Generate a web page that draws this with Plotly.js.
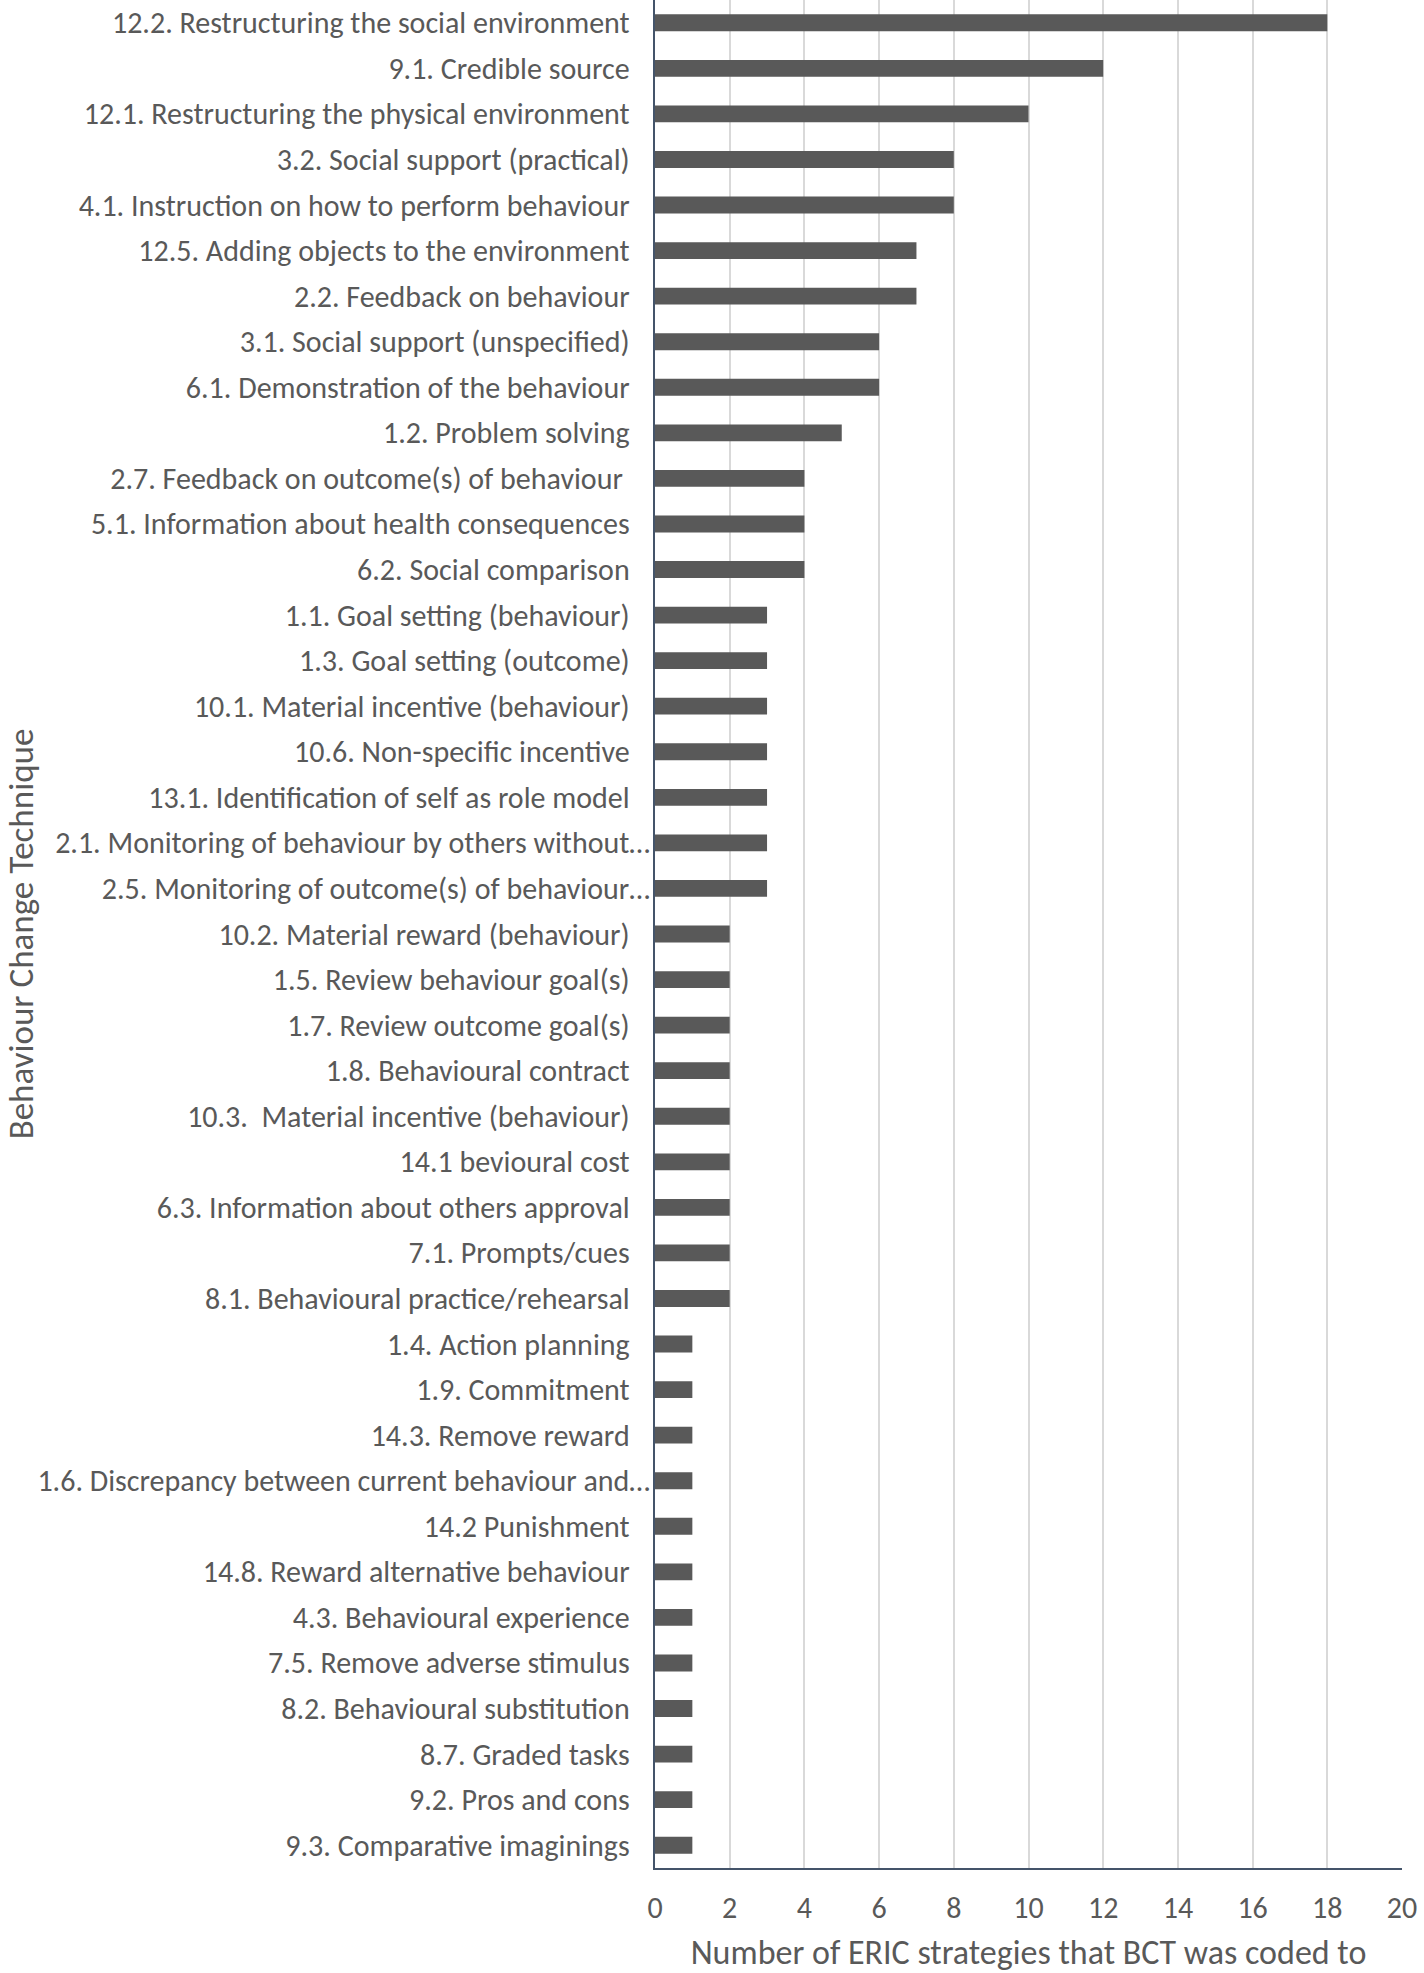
<!DOCTYPE html>
<html>
<head>
<meta charset="utf-8">
<script src="https://cdn.plot.ly/plotly-3.0.1.min.js"></script>
<style>html,body{margin:0;padding:0;background:#fff;}#chart{width:1424px;height:1973px;}</style>
</head>
<body>
<div id="chart"></div>
<script>
const categories = [
  "12.2. Restructuring the social environment",
  "9.1. Credible source",
  "12.1. Restructuring the physical environment",
  "3.2. Social support (practical)",
  "4.1. Instruction on how to perform behaviour",
  "12.5. Adding objects to the environment",
  "2.2. Feedback on behaviour",
  "3.1. Social support (unspecified)",
  "6.1. Demonstration of the behaviour",
  "1.2. Problem solving",
  "2.7. Feedback on outcome(s) of behaviour ",
  "5.1. Information about health consequences",
  "6.2. Social comparison",
  "1.1. Goal setting (behaviour)",
  "1.3. Goal setting (outcome)",
  "10.1. Material incentive (behaviour)",
  "10.6. Non-specific incentive",
  "13.1. Identification of self as role model",
  "2.1. Monitoring of behaviour by others without…",
  "2.5. Monitoring of outcome(s) of behaviour…",
  "10.2. Material reward (behaviour)",
  "1.5. Review behaviour goal(s)",
  "1.7. Review outcome goal(s)",
  "1.8. Behavioural contract",
  "10.3.  Material incentive (behaviour)",
  "14.1 bevioural cost",
  "6.3. Information about others approval",
  "7.1. Prompts/cues",
  "8.1. Behavioural practice/rehearsal",
  "1.4. Action planning",
  "1.9. Commitment",
  "14.3. Remove reward",
  "1.6. Discrepancy between current behaviour and…",
  "14.2 Punishment",
  "14.8. Reward alternative behaviour",
  "4.3. Behavioural experience",
  "7.5. Remove adverse stimulus",
  "8.2. Behavioural substitution",
  "8.7. Graded tasks",
  "9.2. Pros and cons",
  "9.3. Comparative imaginings"
];
const counts = [18, 12, 10, 8, 8, 7, 7, 6, 6, 5, 4, 4, 4, 3, 3, 3, 3, 3, 3, 3,
  2, 2, 2, 2, 2, 2, 2, 2, 2, 1, 1, 1, 1, 1, 1, 1, 1, 1, 1, 1, 1];
const xTickVals = [0, 2, 4, 6, 8, 10, 12, 14, 16, 18, 20];
const xTitle = "Number of ERIC strategies that BCT was coded to";
const yTitle = "Behaviour Change Technique";

const FONT = "Calibri, Carlito, 'Open Sans', sans-serif";
const TXT = "#595959";

// Excel lets truncated labels (ending in "…") run closer to the axis;
// other labels keep a wider gap, reproduced with trailing no-break spaces.
const NB = "\u00a0";
const yTickText = categories.map(function (c) {
  const keep = c.replace(/ +$/, function (m) { return NB.repeat(m.length); })
                .replace(/  /g, " " + NB);
  return c.endsWith("…") ? keep : keep + NB + NB + NB;
});

const trace = {
  type: "bar",
  orientation: "h",
  x: counts,
  y: categories,
  width: 0.37,
  marker: { color: "#595959" },
  hoverinfo: "x+y"
};

const layout = {
  width: 1424,
  height: 1973,
  margin: { l: 655, r: 22, t: 0, b: 105 },
  paper_bgcolor: "#ffffff",
  plot_bgcolor: "#ffffff",
  showlegend: false,
  font: { family: FONT, color: TXT },
  xaxis: {
    range: [0, 20],
    tickvals: xTickVals,
    ticktext: xTickVals.map(String),
    showgrid: true,
    gridcolor: "#d9d9d9",
    gridwidth: 2,
    zeroline: false,
    showline: true,
    linecolor: "#44546A",
    linewidth: 2,
    ticks: "",
    ticklabelstandoff: 12,
    tickfont: { family: FONT, size: 30, color: TXT },
    title: { text: xTitle, font: { family: FONT, size: 34, color: TXT }, standoff: 21 },
    fixedrange: true
  },
  yaxis: {
    type: "category",
    autorange: "reversed",
    tickmode: "array",
    tickvals: categories,
    ticktext: yTickText,
    showgrid: false,
    zeroline: false,
    showline: true,
    linecolor: "#44546A",
    linewidth: 2,
    ticks: "",
    ticklabelstandoff: -3,
    tickfont: { family: FONT, size: 30, color: TXT },
    title: { text: yTitle, font: { family: FONT, size: 35, color: TXT }, standoff: 26 },
    fixedrange: true
  }
};

Plotly.newPlot("chart", [trace], layout, { displayModeBar: false, staticPlot: true });
</script>
</body>
</html>
